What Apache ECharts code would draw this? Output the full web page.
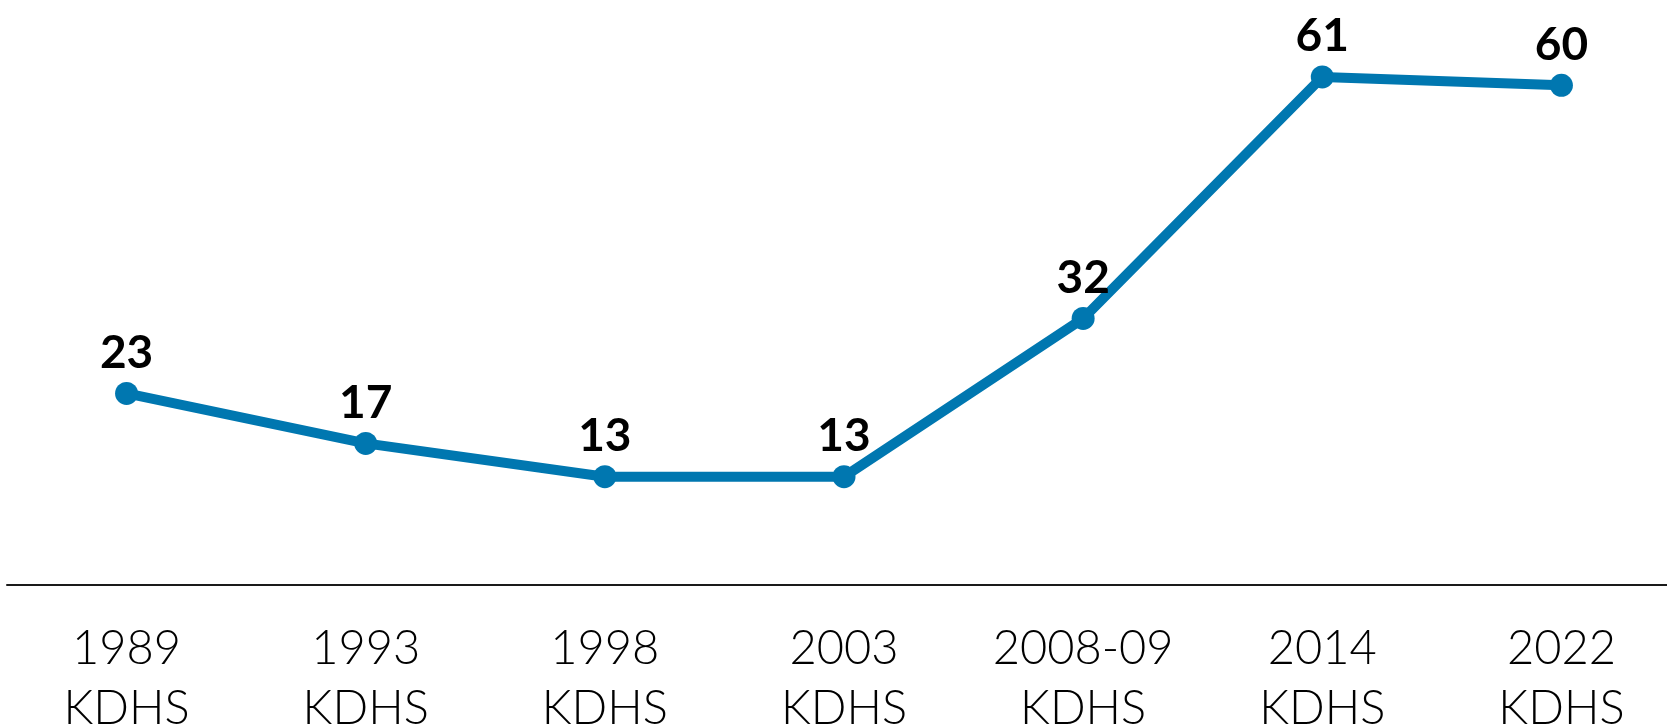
<!DOCTYPE html>
<html><head><meta charset="utf-8">
<script src="https://cdn.jsdelivr.net/npm/echarts@6/dist/echarts.min.js"></script>
<style>html,body{margin:0;padding:0;background:#fff}#c{width:1667px;height:724px}</style>
</head><body><div id="c"></div>
<script>
const categories = ['1989\nKDHS','1993\nKDHS','1998\nKDHS','2003\nKDHS','2008-09\nKDHS','2014\nKDHS','2022\nKDHS'];
const values = [23, 17, 13, 13, 32, 61, 60];
const chart = echarts.init(document.getElementById('c'), null, {renderer:'canvas'});
chart.setOption({
  animation:false,
  grid:{left:7, top:2, width:1674, height:583, containLabel:false, outerBoundsMode:'none'},
  xAxis:{type:'category', data:categories, boundaryGap:true,
    axisLine:{lineStyle:{color:'#1a1a1a', width:2}},
    axisTick:{show:false},
    axisLabel:{color:'#000', fontFamily:'Lato', fontSize:47, fontWeight:300, lineHeight:60, margin:34, interval:0}},
  yAxis:{type:'value', min:0, max:70, show:false, splitLine:{show:false}},
  series:[{type:'line', data:values, symbol:'circle', symbolSize:23,
    lineStyle:{color:'#0077b0', width:10}, itemStyle:{color:'#0077b0'},
    label:{show:true, position:'top', distance:6, color:'#000', fontFamily:'Lato', fontWeight:'bold', fontSize:46}}]
});
</script></body></html>
